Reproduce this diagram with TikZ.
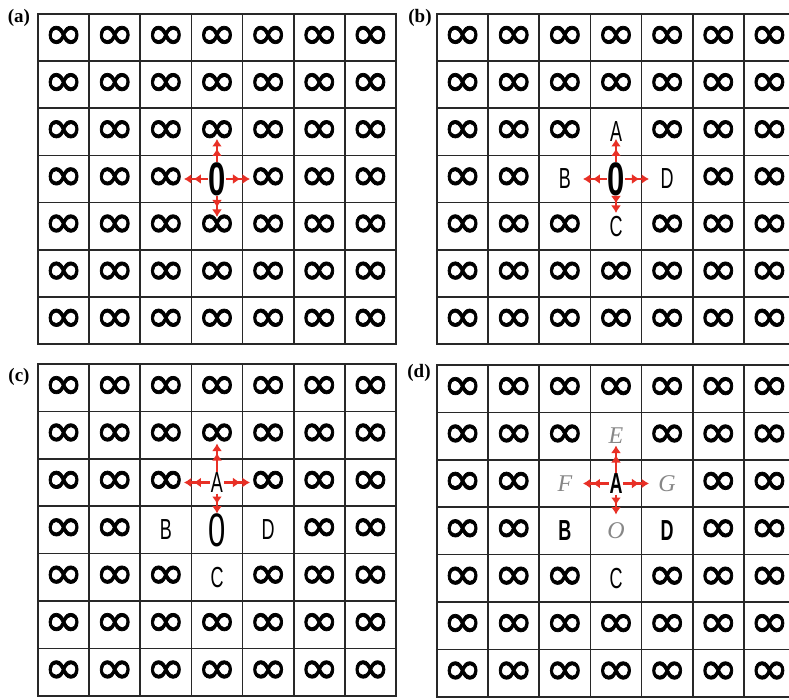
\documentclass[tikz,border=0pt]{standalone}
\usepackage{fontspec}
\setmainfont{Liberation Serif}
\newfontfamily\symfont{DejaVu Sans}[FakeBold=1.6]
\newfontfamily\condfont{Liberation Sans}
\usetikzlibrary{arrows.meta,calc}
\definecolor{gridc}{RGB}{40,40,40}
\definecolor{arrred}{RGB}{232,48,38}
\definecolor{graytxt}{RGB}{135,135,135}
\newcommand\infsym{{\symfont\fontsize{47}{47}\selectfont ∞}}
\newcommand\zerob{\scalebox{0.66}[1]{\condfont\bfseries\fontsize{47}{47}\selectfont 0}}
\newcommand\zeror{\scalebox{0.66}[1]{\condfont\fontsize{47}{47}\selectfont 0}}
\newcommand\lett[1]{\scalebox{0.62}[1]{\condfont\fontsize{29}{29}\selectfont #1}}
\newcommand\lettb[1]{\scalebox{0.62}[1]{\condfont\bfseries\fontsize{29}{29}\selectfont #1}}
\newcommand\glet[1]{{\color{graytxt}\itshape\fontsize{24}{24}\selectfont #1}}
\newcommand\setcell[4]{\expandafter\def\csname cc#1-#2-#3\endcsname{#4}}
\newcommand\cellcontent[3]{\ifcsname cc#1-#2-#3\endcsname\csname cc#1-#2-#3\endcsname\else\infsym\fi}
% panel (a)
\setcell{a}{3}{3}{\zerob}
% panel (b)
\setcell{b}{3}{3}{\zerob}
\setcell{b}{2}{3}{\lett{A}}
\setcell{b}{3}{2}{\lett{B}}
\setcell{b}{3}{4}{\lett{D}}
\setcell{b}{4}{3}{\lett{C}}
% panel (c)
\setcell{c}{2}{3}{\lett{A}}
\setcell{c}{3}{2}{\lett{B}}
\setcell{c}{3}{3}{\zeror}
\setcell{c}{3}{4}{\lett{D}}
\setcell{c}{4}{3}{\lett{C}}
% panel (d)
\setcell{d}{1}{3}{\glet{E}}
\setcell{d}{2}{2}{\glet{F}}
\setcell{d}{2}{3}{\lettb{A}}
\setcell{d}{2}{4}{\glet{G}}
\setcell{d}{3}{2}{\lettb{B}}
\setcell{d}{3}{3}{\glet{O}}
\setcell{d}{3}{4}{\lettb{D}}
\setcell{d}{4}{3}{\lett{C}}
\tikzset{
  cell/.style={draw=gridc, line width=1.7pt, minimum width=51.14pt, minimum height=#1, inner sep=0pt, anchor=center},
  redarr/.style={draw=arrred, line width=2.6pt, -{Latex[length=7.5pt,width=10pt,sep=2pt]Latex[length=7.5pt,width=10pt]}},
  plabel/.style={font=\bfseries\fontsize{19}{19}\selectfont, inner sep=0pt}
}
\newcommand\panel[4]{%
  \foreach \r in {0,...,6}{\foreach \c in {0,...,6}{%
    \node[cell=#4] (#1-\r-\c) at ({#2+(\c+0.5)*51.14},{#3+(\r+0.5)*#4}) {\cellcontent{#1}{\r}{\c}};
  }}}
\newcommand\arrows[7]{% panel, row, col, hstart, vstart, up, down
  \coordinate (#1-tu) at ($(#1-#2-#3.center)+(0,-#6)$);
  \coordinate (#1-td) at ($(#1-#2-#3.center)+(0,#7)$);
  \coordinate (#1-tl) at ($(#1-#2-#3.center)+(-33,0)$);
  \coordinate (#1-tr) at ($(#1-#2-#3.center)+(33,0)$);
  \draw[redarr, shorten <=#5pt] (#1-#2-#3.center) -- (#1-tu);
  \draw[redarr, shorten <=#5pt] (#1-#2-#3.center) -- (#1-td);
  \draw[redarr, shorten <=#4pt] (#1-#2-#3.center) -- (#1-tl);
  \draw[redarr, shorten <=#4pt] (#1-#2-#3.center) -- (#1-tr);
}
\begin{document}
\begin{tikzpicture}[x=1pt,y=-1pt]
\clip (0,0) rectangle (789,699);
\fill[white] (0,0) rectangle (789,699);
\panel{a}{38}{14}{47.14}
\panel{b}{437}{14}{47.14}
\panel{c}{38}{364}{47.4}
\panel{d}{437}{365}{47.4}
\arrows{a}{3}{3}{9}{17}{40}{38}
\arrows{b}{3}{3}{9}{17}{40}{34}
\arrows{c}{2}{3}{7}{11}{39}{31}
\arrows{d}{2}{3}{7}{11}{38}{31}
\node[plabel] (la) at (19,18) {(a)};
\node[plabel] (lb) at (420,18) {(b)};
\node[plabel] (lc) at (19,377) {(c)};
\node[plabel] (ld) at (419,373) {(d)};
\end{tikzpicture}
\end{document}
